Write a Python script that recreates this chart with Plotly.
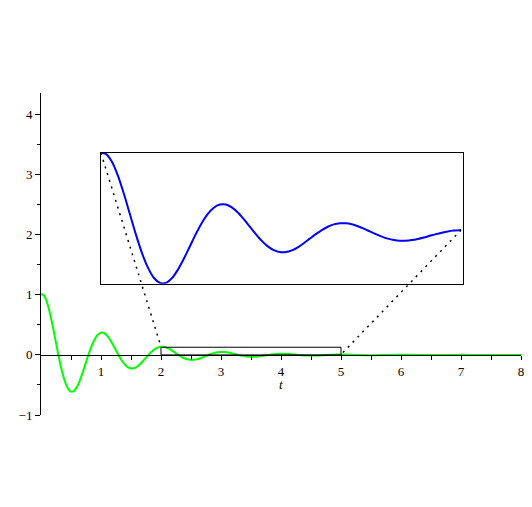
import plotly.graph_objects as go

# ---- data ----
T = [0.00, 0.04, 0.09, 0.14, 0.19, 0.24, 0.29, 0.34, 0.39, 0.44, 0.49,
     0.54, 0.59, 0.64, 0.69, 0.74, 0.79, 0.84, 0.89, 0.94, 0.99,
     1.04, 1.09, 1.14, 1.19, 1.24, 1.29, 1.34, 1.39, 1.44, 1.49,
     1.54, 1.59, 1.64, 1.69, 1.74, 1.79, 1.84, 1.89, 1.94, 1.99, 2.00,
     2.04, 2.09, 2.14, 2.19, 2.24, 2.29, 2.34, 2.39, 2.44, 2.49,
     2.54, 2.59, 2.64, 2.69, 2.74, 2.79, 2.84, 2.89, 2.94, 2.99,
     3.04, 3.09, 3.14, 3.19, 3.24, 3.29, 3.34, 3.39, 3.44, 3.49,
     3.54, 3.59, 3.64, 3.69, 3.74, 3.79, 3.84, 3.89, 3.94, 3.99,
     4.04, 4.09, 4.14, 4.19, 4.24, 4.29, 4.34, 4.39, 4.44, 4.49,
     4.54, 4.59, 4.64, 4.69, 4.74, 4.79, 4.84, 4.89, 4.94, 4.99, 5.00,
     5.04, 5.29, 5.54, 5.79, 6.04, 6.29, 6.54, 6.79, 7.04, 7.29, 7.54, 7.79, 8.00]

V = [1.008, 1.0, 0.9047, 0.7320, 0.5059, 0.2530, 0.0, -0.2289, -0.4142, -0.5423, -0.6064,
     -0.6065, -0.5487, -0.4440, -0.3068, -0.1535, 0.0, 0.1388, 0.2512, 0.3289, 0.3678,
     0.3679, 0.3328, 0.2693, 0.1861, 0.0931, 0.0, -0.0842, -0.1524, -0.1995, -0.2231,
     -0.2231, -0.2019, -0.1633, -0.1129, -0.0565, 0.0, 0.0511, 0.0924, 0.1210, 0.1353, 0.1365,
     0.1353, 0.1224, 0.0990, 0.0684, 0.0342, 0.0, -0.0310, -0.0560, -0.0734, -0.0820,
     -0.0821, -0.0742, -0.0601, -0.0415, -0.0208, 0.0, 0.0188, 0.0340, 0.0445, 0.0498,
     0.0498, 0.0451, 0.0365, 0.0252, 0.0126, 0.0, -0.0114, -0.0206, -0.0270, -0.0302,
     -0.0302, -0.0273, -0.0221, -0.0153, -0.0076, 0.0, 0.0069, 0.0125, 0.0164, 0.0183,
     0.0183, 0.0166, 0.0134, 0.0093, 0.0046, 0.0, -0.0042, -0.0076, -0.0099, -0.0111,
     -0.0111, -0.0100, -0.0081, -0.0056, -0.0028, 0.0, 0.0025, 0.0046, 0.0060, 0.0067, 0.0068,
     0.0067, 0.0, -0.0041, 0.0, 0.0025, 0.0, -0.0015, 0.0, 0.0009, 0.0, -0.0006, 0.0, 0.0003]

X_TICKS = [1, 2, 3, 4, 5, 6, 7, 8]
Y_TICKS = [-1, 0, 1, 2, 3, 4]
Y_TICK_TEXT = ["\u22121", "0", "1", "2", "3", "4"]

ZOOM_T = [2.0, 5.0]          # window of t shown magnified
ZOOM_V = [-0.0837, 0.1365]   # value window of the magnified view
ZOOM_BOX_TOP = 0.128         # height of the marker box on the main plot

# ---- layout constants ----
XR = [0, 8]
YR = [-1, 4.36]
INSET_X = [1.0, 7.04]
INSET_Y = [1.183, 3.36]

FONT = dict(family="Liberation Serif, Times New Roman, serif", size=13, color="black")

t_in = [t for t in T if ZOOM_T[0] <= t <= ZOOM_T[1]]
v_in = [v for t, v in zip(T, V) if ZOOM_T[0] <= t <= ZOOM_T[1]]

def inset_to_main(t, v):
    x = INSET_X[0] + (t - ZOOM_T[0]) * 2.0
    y = INSET_Y[0] + (v - ZOOM_V[0]) / (ZOOM_V[1] - ZOOM_V[0]) * (INSET_Y[1] - INSET_Y[0])
    return x, y

fig = go.Figure()

fig.add_trace(go.Scatter(x=T, y=V, mode="lines",
                         line=dict(color="#00ff00", width=2, shape="spline", smoothing=0.8),
                         hoverinfo="skip"))

# inset curve
fig.add_trace(go.Scatter(x=t_in, y=v_in, mode="lines", xaxis="x2", yaxis="y2",
                         line=dict(color="#0000ff", width=2, shape="spline", smoothing=0.8),
                         hoverinfo="skip"))

# connector dotted lines (drawn on top of the inset)
for i in (0, -1):
    tx, ty = t_in[i], v_in[i]
    mx, my = inset_to_main(tx, ty)
    fig.add_shape(type="line", xref="x", yref="y", x0=mx, y0=my, x1=tx, y1=ty,
                  line=dict(color="black", width=1.5, dash="2px,5px"), layer="above")

fig.add_shape(type="rect", xref="x", yref="y", x0=ZOOM_T[0], x1=ZOOM_T[1],
              y0=0, y1=ZOOM_BOX_TOP, line=dict(color="black", width=1))

ypos = (0 - YR[0]) / (YR[1] - YR[0])
span_x = XR[1] - XR[0]
span_y = YR[1] - YR[0]
t_span = (INSET_X[1] - INSET_X[0]) / 2.0

# page body has an 8px default margin; figure is sized to fit inside it
fig.update_layout(
    width=516, height=491,
    margin=dict(l=33, r=3, t=85, b=84, autoexpand=False),
    paper_bgcolor="white", plot_bgcolor="rgba(0,0,0,0)",
    showlegend=False,
    font=FONT,
    xaxis=dict(range=XR, anchor="free", position=ypos, showline=True,
               linecolor="black", linewidth=1, showgrid=False, zeroline=False,
               tickmode="array", tickvals=X_TICKS, ticks="outside", ticklen=4,
               tickcolor="black", tickfont=FONT, automargin=False,
               ticklabeloverflow="allow",
               minor=dict(tickvals=[x - 0.5 for x in X_TICKS], ticks="outside",
                          ticklen=4, tickcolor="black"),
               fixedrange=True),
    yaxis=dict(range=YR, showline=True, linecolor="black", linewidth=1,
               showgrid=False, zeroline=False, automargin=False,
               ticklabeloverflow="allow",
               tickmode="array", tickvals=Y_TICKS, ticktext=Y_TICK_TEXT,
               ticks="outside", ticklen=5, tickcolor="black", tickfont=FONT,
               minor=dict(tickvals=[y + 0.5 for y in Y_TICKS[:-1]], ticks="outside",
                          ticklen=3, tickcolor="black"),
               fixedrange=True),
    xaxis2=dict(domain=[(INSET_X[0] - XR[0]) / span_x, (INSET_X[1] - XR[0]) / span_x],
                range=[ZOOM_T[0], ZOOM_T[0] + t_span], anchor="y2", automargin=False,
                showline=True, mirror=True, linecolor="black", linewidth=1,
                showgrid=False, zeroline=False, showticklabels=False, ticks=""),
    yaxis2=dict(domain=[(INSET_Y[0] - YR[0]) / span_y, (INSET_Y[1] - YR[0]) / span_y],
                range=ZOOM_V, anchor="x2", automargin=False,
                showline=True, mirror=True, linecolor="black", linewidth=1,
                showgrid=False, zeroline=False, showticklabels=False, ticks=""),
    annotations=[dict(x=4, y=0, xref="x", yref="y", text="<i>t</i>",
                      showarrow=False, yshift=-30, font=FONT)],
)

fig.write_html("out.html")
